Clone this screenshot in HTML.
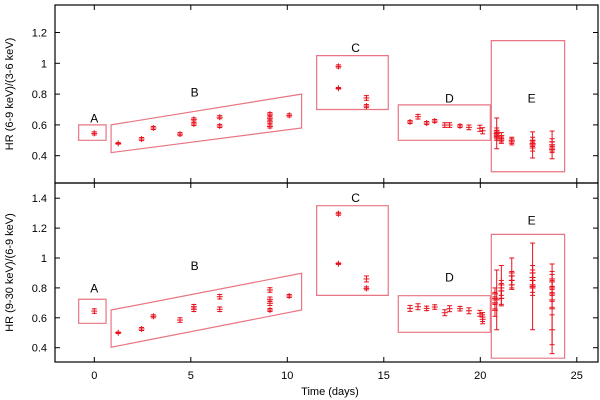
<!DOCTYPE html>
<html><head><meta charset="utf-8"><style>
html,body{margin:0;padding:0;background:#fff;}
svg{display:block;font-family:"Liberation Sans",sans-serif;}
</style></head><body>
<svg id="chart" width="600" height="400"></svg>
<script>
// ---- data ----
const xTicks=[0,5,10,15,20,25];
const topTicks=[0.4,0.6,0.8,1,1.2];
const botTicks=[0.4,0.6,0.8,1,1.2,1.4];
// top panel HR (6-9)/(3-6)
const topT=[0,1.24,2.45,3.06,4.44,5.16,5.16,6.5,6.5,9.1,9.1,9.1,9.1,10.1,12.65,12.65,14.1,14.1,
16.36,16.77,17.22,17.64,18.16,18.41,18.95,19.41,19.98,20.12,
20.85,20.85,20.85,20.85,20.85,21.09,21.09,21.09,21.63,21.63,22.71,22.71,22.71,22.71,22.71,23.72,23.72,23.72,23.72,23.72];
const topV=[0.545,0.48,0.508,0.58,0.54,0.636,0.606,0.65,0.593,0.67,0.643,0.62,0.59,0.662,0.98,0.838,0.775,0.722,
0.619,0.653,0.612,0.625,0.599,0.599,0.593,0.584,0.578,0.562,
0.56,0.545,0.53,0.52,0.545,0.53,0.51,0.5,0.5,0.49,0.48,0.47,0.45,0.5,0.47,0.49,0.47,0.45,0.44,0.47];
const topE=[0.01,0.005,0.01,0.01,0.01,0.01,0.01,0.01,0.01,0.01,0.01,0.01,0.01,0.01,0.01,0.005,0.015,0.01,
0.01,0.015,0.01,0.01,0.015,0.015,0.01,0.015,0.02,0.02,
0.02,0.02,0.02,0.02,0.1,0.02,0.02,0.02,0.02,0.02,0.02,0.02,0.02,0.02,0.085,0.02,0.02,0.02,0.02,0.09];
// bottom panel HR (9-30)/(6-9)
const botT=[0,1.24,2.45,3.06,4.44,5.16,5.16,6.5,6.5,9.1,9.1,9.1,9.1,10.1,12.65,12.65,14.1,14.1,
16.36,16.77,17.22,17.64,18.16,18.41,18.95,19.41,19.98,20.12,20.12,
20.76,20.76,20.76,20.76,20.85,21.09,21.09,21.09,21.09,21.63,21.63,21.63,21.63,22.71,22.71,22.71,22.71,22.71,22.71,23.72,23.72,23.72,23.72,23.72,23.72,23.72];
const botV=[0.645,0.5,0.525,0.61,0.585,0.674,0.657,0.741,0.657,0.786,0.724,0.697,0.652,0.746,1.296,0.962,0.86,0.797,
0.663,0.674,0.663,0.672,0.634,0.661,0.661,0.647,0.63,0.605,0.59,
0.65,0.7,0.73,0.76,0.72,0.73,0.78,0.8,0.82,0.82,0.85,0.88,0.9,0.8,0.82,0.85,0.87,0.9,0.81,0.72,0.76,0.8,0.84,0.86,0.66,0.52];
const botE=[0.015,0.005,0.01,0.01,0.015,0.015,0.015,0.015,0.015,0.015,0.015,0.015,0.01,0.01,0.01,0.005,0.02,0.01,
0.02,0.02,0.015,0.015,0.02,0.02,0.015,0.02,0.02,0.03,0.03,
0.04,0.04,0.04,0.04,0.2,0.05,0.05,0.05,0.13,0.03,0.03,0.03,0.1,0.05,0.05,0.05,0.05,0.05,0.29,0.05,0.05,0.05,0.05,0.05,0.3,0.1];
// region boxes [label, x polygon..., y polygon...]
const regLabels=["A","B","C","D","E"];
const topBoxX=[[-0.81,0.61,0.61,-0.81],[0.87,10.74,10.74,0.87],[11.52,15.23,15.23,11.52],[15.75,20.52,20.52,15.75],[20.57,24.37,24.37,20.57]];
const topBoxY=[[0.6,0.6,0.5,0.5],[0.6,0.8,0.58,0.42],[1.05,1.05,0.7,0.7],[0.73,0.73,0.5,0.5],[1.147,1.147,0.296,0.296]];
const topLabX=[0,5.2,13.54,18.4,22.66];
const topLabY=[0.643,0.81,1.1,0.77,0.77];
const botBoxX=topBoxX;
const botBoxY=[[0.724,0.724,0.563,0.563],[0.652,0.898,0.652,0.403],[1.35,1.35,0.75,0.75],[0.748,0.748,0.503,0.503],[1.158,1.158,0.33,0.33]];
const botLabX=[0,5.2,13.54,18.4,22.66];
const botLabY=[0.797,0.946,1.4,0.87,1.25];

// ---- layout ----
const NS="http://www.w3.org/2000/svg";
const svg=document.getElementById('chart');
const L=55,R=598;
const xS=v=>94.3+v*19.3;
const panels=[
 {top:5,bot:183,y:v=>155.7-(v-0.4)*154,ticks:topTicks,T:topT,V:topV,E:topE,bx:topBoxX,by:topBoxY,lx:topLabX,ly:topLabY,title:"HR (6-9 keV)/(3-6 keV)",name:"top"},
 {top:183,bot:362,y:v=>347.7-(v-0.4)*149.5,ticks:botTicks,T:botT,V:botV,E:botE,bx:botBoxX,by:botBoxY,lx:botLabX,ly:botLabY,title:"HR (9-30 keV)/(6-9 keV)",name:"bottom"}
];
function mk(tag,attrs,parent){const e=document.createElementNS(NS,tag);for(const k in attrs)e.setAttribute(k,attrs[k]);(parent||svg).appendChild(e);return e;}

panels.forEach(p=>{
  const g=mk('g',{});
  
  
  // boxes
  p.bx.forEach((xs,i)=>{
    const pts=xs.map((x,j)=>xS(x)+','+p.y(p.by[i][j])).join(' ');
    const b=mk('polygon',{points:pts,fill:'none',stroke:'#e87583','stroke-width':1.2},g);
    
    
    const t=mk('text',{x:xS(p.lx[i]),y:p.y(p.ly[i])+4,'text-anchor':'middle','font-size':12,fill:'#000'},g);
    t.textContent=regLabels[i];
    
    
  });
  // points
  p.T.forEach((t,i)=>{
    const x=xS(t),y=p.y(p.V[i]),y1=p.y(p.V[i]+p.E[i]),y2=p.y(p.V[i]-p.E[i]);
    const pg=mk('g',{stroke:'#e8101c','stroke-width':1},g);
    
    
    mk('line',{x1:x,y1:Math.min(y1,y-3),x2:x,y2:Math.max(y2,y+3)},pg);
    mk('line',{x1:x-3,y1:y,x2:x+3,y2:y},pg);
    mk('line',{x1:x-2.5,y1:y1,x2:x+2.5,y2:y1},pg);
    mk('line',{x1:x-2.5,y1:y2,x2:x+2.5,y2:y2},pg);
  });
  // frame
  const f=mk('rect',{x:L,y:p.top,width:R-L,height:p.bot-p.top,fill:'none',stroke:'#000','stroke-width':1.2},g);
  
  
  // x ticks
  xTicks.forEach(v=>{
    mk('line',{x1:xS(v),y1:p.top,x2:xS(v),y2:p.top+5,stroke:'#000'},g);
    mk('line',{x1:xS(v),y1:p.bot,x2:xS(v),y2:p.bot-5,stroke:'#000'},g);
  });
  // y ticks
  p.ticks.forEach(v=>{
    mk('line',{x1:L,y1:p.y(v),x2:L+5,y2:p.y(v),stroke:'#000'},g);
    mk('line',{x1:R,y1:p.y(v),x2:R-5,y2:p.y(v),stroke:'#000'},g);
    const t=mk('text',{x:47,y:p.y(v)+4,'text-anchor':'end','font-size':11,fill:'#000'},g);
    t.textContent=String(v);
    
    
  });
  const cy=(p.top+p.bot)/2;
  const yt=mk('text',{x:0,y:0,'text-anchor':'middle','font-size':11,fill:'#000',transform:`translate(13,${cy}) rotate(-90)`},g);
  yt.textContent=p.title;
  
  
});
xTicks.forEach(v=>{
  const t=mk('text',{x:xS(v),y:379,'text-anchor':'middle','font-size':11,fill:'#000'});
  t.textContent=String(v);
  
  
});
const xt=mk('text',{x:330,y:395,'text-anchor':'middle','font-size':11,fill:'#000'});
xt.textContent="Time (days)";


</script>
</body></html>
